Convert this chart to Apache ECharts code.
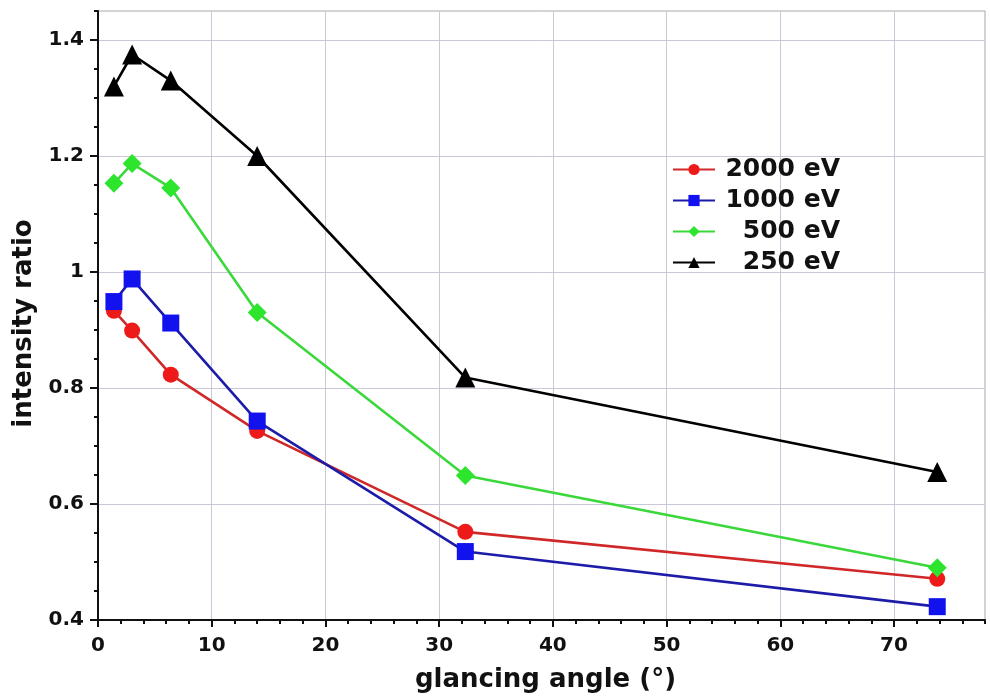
<!DOCTYPE html>
<html>
<head>
<meta charset="utf-8">
<script src="https://cdn.jsdelivr.net/npm/echarts@6/dist/echarts.min.js"></script>
<style>
  html, body { margin: 0; padding: 0; background: #fff; }
  #chart { width: 990px; height: 697px; }
</style>
</head>
<body>
<div id="chart"></div>
<script>
// glancing angle (deg)
var angles = [1.4, 3, 6.4, 14, 32.3, 73.8];

var names = ['2000 eV', '1000 eV', '500 eV', '250 eV'];
var ev2000 = [0.933, 0.899, 0.823, 0.726, 0.552, 0.471];
var ev1000 = [0.949, 0.988, 0.912, 0.743, 0.518, 0.423];
var ev500 = [1.153, 1.187, 1.145, 0.93, 0.649, 0.49];
var ev250 = [1.32, 1.375, 1.33, 1.2, 0.818, 0.655];

var xTicks = [0, 10, 20, 30, 40, 50, 60, 70];
var yTicks = [0.4, 0.6, 0.8, 1, 1.2, 1.4];

var font = 'DejaVu Sans';

function pairs(vals) {
	var out = [];
	for (var i = 0; i < angles.length; i++) {
		out.push([angles[i], vals[i]]);
	}
	return out;
}

function makeSeries(name, vals, symbol, size, markColor, lineColor) {
	return {
		name: name,
		type: 'line',
		data: pairs(vals),
		symbol: symbol,
		symbolSize: size,
		showAllSymbol: true,
		itemStyle: { color: markColor },
		lineStyle: { color: lineColor, width: 2.6 },
		emphasis: { disabled: true }
	};
}

var myChart = echarts.init(document.getElementById('chart'));
var option = {
	backgroundColor: '#fff',
	animation: false,
	textStyle: { fontFamily: font },
	grid: {
		left: 98, right: 5, top: 11, bottom: 77,
		show: true,
		borderColor: '#a8a8a8',
		borderWidth: 1,
		outerBoundsMode: 'none'
	},
	legend: {
		orient: 'vertical',
		left: 672,
		top: 157,
		padding: 0,
		itemWidth: 42,
		itemHeight: 14,
		itemGap: 6,
		data: names,
		formatter: function (name) { return '{r|' + name + '}'; },
		textStyle: {
			fontFamily: font,
			fontWeight: 'bold',
			fontSize: 25,
			color: '#111',
			rich: {
				r: { width: 120, align: 'right', fontFamily: font, fontWeight: 'bold', fontSize: 25, color: '#111' }
			}
		}
	},
	xAxis: [{
		type: 'value',
		position: 'bottom',
		min: 0,
		max: 78,
		interval: 10,
		name: 'glancing angle (°)',
		nameLocation: 'middle',
		nameGap: 47,
		nameTextStyle: { fontFamily: font, fontWeight: 'bold', fontSize: 26, color: '#111', padding: [0, 0, 0, 8] },
		axisLine: { show: true, lineStyle: { color: '#111', width: 2 } },
		axisTick: { show: true, length: 7, customValues: xTicks, lineStyle: { color: '#111', width: 2 } },
		axisLabel: { margin: 16, showMaxLabel: false, fontFamily: font, fontWeight: 'bold', fontSize: 20, color: '#111' },
		splitLine: { show: true, lineStyle: { color: '#c8c8d8', width: 1 } }
	}, {
		type: 'value',
		position: 'bottom',
		min: 0,
		max: 78,
		interval: 2,
		axisLine: { show: false },
		axisTick: { show: true, length: 4, lineStyle: { color: '#111', width: 2 } },
		axisLabel: { show: false },
		splitLine: { show: false }
	}],
	yAxis: [{
		type: 'value',
		position: 'left',
		min: 0.4,
		max: 1.45,
		interval: 0.2,
		name: 'intensity ratio',
		nameLocation: 'middle',
		nameGap: 60,
		nameTextStyle: { fontFamily: font, fontWeight: 'bold', fontSize: 26, color: '#111', padding: [0, 16, 0, 0] },
		axisLine: { show: true, lineStyle: { color: '#111', width: 2 } },
		axisTick: { show: true, length: 8, customValues: yTicks, lineStyle: { color: '#111', width: 2 } },
		axisLabel: { margin: 14, showMaxLabel: false, fontFamily: font, fontWeight: 'bold', fontSize: 20, color: '#111' },
		splitLine: { show: true, lineStyle: { color: '#c8c8d8', width: 1 } }
	}, {
		type: 'value',
		position: 'left',
		min: 0.4,
		max: 1.45,
		interval: 0.05,
		axisLine: { show: false },
		axisTick: { show: true, length: 4, lineStyle: { color: '#111', width: 2 } },
		axisLabel: { show: false },
		splitLine: { show: false }
	}],
	series: [
		makeSeries(names[0], ev2000, 'circle', 16, '#ee1a1a', '#d02828'),
		makeSeries(names[1], ev1000, 'rect', 17, '#1212ee', '#1c1ca8'),
		makeSeries(names[2], ev500, 'diamond', 19, '#2ee52e', '#3ad83a'),
		makeSeries(names[3], ev250, 'triangle', 20, '#000', '#000')
	]
};
myChart.setOption(option);
</script>
</body>
</html>
